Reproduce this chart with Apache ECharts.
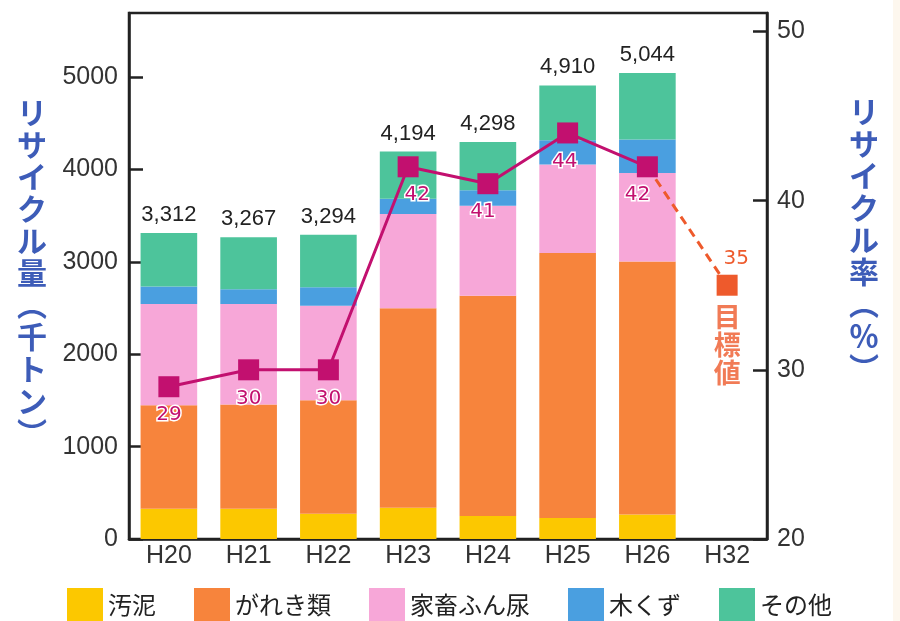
<!DOCTYPE html>
<html>
<head>
<meta charset="utf-8">
<script src="https://cdn.jsdelivr.net/npm/echarts@6/dist/echarts.min.js"></script>
<style>
  html, body { margin: 0; padding: 0; background: #ffffff; }
  #chart { width: 900px; height: 621px; }
</style>
</head>
<body>
<div id="chart"></div>
<script>
// Fiscal years (Heisei era)
const years = ['H20', 'H21', 'H22', 'H23', 'H24', 'H25', 'H26', 'H32'];

// Recycled amount by material (thousand tonnes)
const sludge = [328, 328, 273, 338, 248, 226, 266, '-'];
const debris = [1121, 1128, 1230, 2160, 2384, 2869, 2738, '-'];
const manure = [1096, 1089, 1023, 1020, 976, 958, 959, '-'];
const wood   = [188, 159, 200, 166, 166, 264, 362, '-'];
const others = [579, 563, 568, 510, 524, 593, 719, '-'];

// Recycling rate (%) and the target for H32
const recycleRate = [29, 30, 30, 42, 41, 44, 42, '-'];
const targetRate  = ['-', '-', '-', '-', '-', '-', 42, 35];

// Axis settings
const amountMax = 5694, amountStep = 1000;
const rateMin = 20, rateMax = 51.09, rateStep = 10;

// Horizontal nudges for the rate labels
const rateLabelShift = [0, 0, 0, 9, -5, -3, -10, 0];

const materialNames = ['汚泥', 'がれき類', '家畜ふん尿', '木くず', 'その他'];
const materialColors = ['#fcc800', '#f7843c', '#f7a7d8', '#4a9fe0', '#4dc49b'];
const materialData = [sludge, debris, manure, wood, others];

const rateColor = '#c2106f';
const targetColor = '#ee5a2c';
const titleColor = '#3d5cb8';
const axisColor = '#222222';
const tickFont = "'Liberation Sans', Arial, sans-serif";
const cjkFont = "'Noto Sans CJK JP', sans-serif";

const totals = years.map((_, i) => {
  let s = 0;
  materialData.forEach(arr => { if (typeof arr[i] === 'number') s += arr[i]; });
  return s;
});

const barSeries = materialData.map((arr, k) => ({
  name: materialNames[k],
  type: 'bar',
  stack: 'amount',
  data: arr,
  barCategoryGap: '29%',
  itemStyle: { color: materialColors[k] },
  emphasis: { disabled: true },
  label: k === materialData.length - 1 ? {
    show: true,
    position: 'top',
    distance: 7,
    color: '#222',
    fontSize: 22,
    fontFamily: "'Liberation Sans', Arial, sans-serif",
    formatter: p => totals[p.dataIndex].toLocaleString('en-US')
  } : { show: false }
}));

const vertical = s => s.split('').join('\n');

const chart = echarts.init(document.getElementById('chart'), null, { renderer: 'canvas' });

chart.setOption({
  animation: false,
  backgroundColor: '#ffffff',
  grid: {
    left: 129, right: 133, top: 13, bottom: 82,
    show: true, borderColor: axisColor, borderWidth: 2.5, backgroundColor: 'transparent'
  },
  legend: {
    left: 67, top: 588, padding: 0,
    itemWidth: 36, itemHeight: 34, itemGap: 38,
    icon: 'rect',
    data: materialNames,
    selectedMode: false,
    textStyle: { fontSize: 24, color: '#222', fontFamily: cjkFont }
  },
  xAxis: {
    type: 'category',
    data: years,
    axisLine: { lineStyle: { color: axisColor, width: 2.5 } },
    axisTick: { inside: true, length: 10, lineStyle: { color: axisColor, width: 2 } },
    axisLabel: { margin: 5, fontSize: 25, color: '#333', fontFamily: tickFont }
  },
  yAxis: [
    {
      type: 'value', min: 0, max: amountMax, interval: amountStep,
      splitLine: { show: false },
      axisLine: { show: true, lineStyle: { color: axisColor, width: 2.5 } },
      axisTick: { show: true, inside: true, length: 14, lineStyle: { color: axisColor, width: 2.5 } },
      axisLabel: {
        margin: 11, fontSize: 25, color: '#333', fontFamily: tickFont, showMaxLabel: false,
        formatter: v => String(v)
      }
    },
    {
      type: 'value', min: rateMin, max: rateMax, interval: rateStep, position: 'right',
      splitLine: { show: false },
      axisLine: { show: true, lineStyle: { color: axisColor, width: 2.5 } },
      axisTick: { show: true, inside: true, length: 14, lineStyle: { color: axisColor, width: 2.5 } },
      axisLabel: {
        margin: 10, fontSize: 25, color: '#333', fontFamily: tickFont, showMaxLabel: false,
        formatter: v => String(v)
      }
    }
  ],
  series: barSeries.concat([
    {
      name: '目標',
      type: 'line',
      yAxisIndex: 1,
      data: targetRate.map((v, i) => v === '-' ? '-' : {
        value: v,
        symbol: i === targetRate.length - 1 ? 'rect' : 'none'
      }),
      symbolSize: 21,
      itemStyle: { color: targetColor },
      lineStyle: { color: targetColor, width: 3, type: [9, 6] },
      emphasis: { disabled: true },
      z: 3,
      label: {
        show: true,
        position: 'top',
        distance: 6,
        offset: [9, 0],
        color: targetColor,
        fontSize: 20,
        fontFamily: "'DejaVu Sans', sans-serif",
        formatter: p => p.dataIndex === targetRate.length - 1 ? String(p.value) : ''
      }
    },
    {
      name: 'リサイクル率',
      type: 'line',
      yAxisIndex: 1,
      data: recycleRate.map((v, i) => v === '-' ? '-' : {
        value: v,
        label: { offset: [rateLabelShift[i], 0] }
      }),
      symbol: 'rect',
      symbolSize: 21,
      itemStyle: { color: rateColor },
      lineStyle: { color: rateColor, width: 3 },
      emphasis: { disabled: true },
      z: 4,
      label: {
        show: true,
        position: 'bottom',
        distance: 8,
        color: rateColor,
        fontSize: 20,
        fontFamily: "'DejaVu Sans', sans-serif",
        textBorderColor: '#ffffff',
        textBorderWidth: 3
      }
    },
    {
      name: '目標値',
      type: 'scatter',
      yAxisIndex: 1,
      data: targetRate.map((v, i) => i === targetRate.length - 1 ? v : '-'),
      symbol: 'rect',
      symbolSize: 21,
      itemStyle: { color: 'transparent' },
      emphasis: { disabled: true },
      z: 2,
      label: {
        show: true,
        position: 'bottom',
        distance: 7,
        color: targetColor,
        fontSize: 27,
        lineHeight: 28,
        fontWeight: 'bold',
        fontFamily: cjkFont,
        formatter: () => vertical('目標値')
      }
    }
  ]),
  graphic: [
    {
      type: 'rect', silent: true, z: -10,
      shape: { x: 893, y: 0, width: 7, height: 621 },
      style: { fill: '#fdf7ee' }
    },
    {
      type: 'text', silent: true,
      x: 32, y: 273,
      style: {
        text: vertical('リサイクル量︵千トン︶'),
        fill: titleColor, fontSize: 30, lineHeight: 32, fontWeight: 'bold',
        fontFamily: cjkFont, align: 'center', verticalAlign: 'middle'
      }
    },
    {
      type: 'text', silent: true,
      x: 864, y: 240,
      style: {
        text: vertical('リサイクル率︵％︶'),
        fill: titleColor, fontSize: 30, lineHeight: 32, fontWeight: 'bold',
        fontFamily: cjkFont, align: 'center', verticalAlign: 'middle'
      }
    }
  ]
});
</script>
</body>
</html>
